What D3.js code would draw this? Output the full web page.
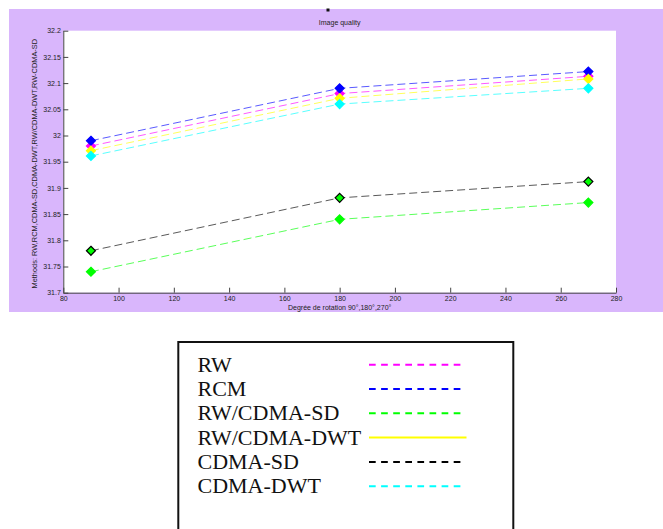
<!DOCTYPE html>
<html lang="en">
<head>
<meta charset="utf-8">
<style type="text/css">
    body { margin: 0; background: #fff; }
    .tick_text { font-family: "Liberation Sans", Arial, sans-serif; font-size: 7px; fill: #222; }
    .label_text { font-family: "Liberation Sans", Arial, sans-serif; font-size: 7px; fill: #222; }
    .legend_text { font-family: "Liberation Serif", "DejaVu Serif", serif; font-size: 22px; fill: #111; }
</style>
</head>
<body>
<script src="https://d3js.org/d3.v7.min.js"></script>
<script type="text/javascript">
// data
var angles = [90, 180, 270];
var rw        = [31.980, 32.080, 32.113];
var rcm       = [31.990, 32.090, 32.122];
var rwCdmaSd  = [31.740, 31.840, 31.872];
var rwCdmaDwt = [31.971, 32.071, 32.108];
var cdmaSd    = [31.780, 31.881, 31.912];
var cdmaDwt   = [31.961, 32.060, 32.090];

var seriesNames = ["RW", "RCM", "RW/CDMA-SD", "RW/CDMA-DWT", "CDMA-SD", "CDMA-DWT"];
var seriesValues = [rw, rcm, rwCdmaSd, rwCdmaDwt, cdmaSd, cdmaDwt];

var xTicks = [80, 100, 120, 140, 160, 180, 200, 220, 240, 260, 280];
var yTicks = [31.7, 31.75, 31.8, 31.85, 31.9, 31.95, 32, 32.05, 32.1, 32.15, 32.2];

var titleText = "Image quality";
var xLabel = "Degrée de rotation 90°,180°,270°";
var yLabel = "Methods: RW,RCM,CDMA-SD,CDMA-DWT,RW/CDMA-DWT,RW-CDMA-SD";

// styles
var lineColors = ["#ff00ff", "#0000ff", "#00ff00", "#ffff00", "#000000", "#00ffff"];
var markerFill = ["#ff00ff", "#0000ff", "#00ff00", "#ffff00", "#00ff00", "#00ffff"];
var legendDash = ["6.7,5.4", "6.7,5.4", "6.7,5.4", null, "6.7,5.4", "6.7,5.4"];

var W = 663, H = 529;
var plot = {left: 63.3, right: 616, top: 30.7, bottom: 292.7};

var svg = d3.select("body").append("svg")
    .attr("width", W)
    .attr("height", H);

// figure background
svg.append("rect")
    .attr("x", 9).attr("y", 9)
    .attr("width", W - 9).attr("height", 303)
    .attr("fill", "#d9b6fc");

svg.append("rect")
    .attr("x", plot.left).attr("y", plot.top)
    .attr("width", plot.right - plot.left).attr("height", plot.bottom - plot.top)
    .attr("fill", "#ffffff");

// little clipped mark above the title
svg.append("rect")
    .attr("x", 326.5).attr("y", 8.5)
    .attr("width", 3).attr("height", 3)
    .attr("fill", "#111");

var x = d3.scaleLinear().domain([80, 280]).range([plot.left, plot.right]);
var y = d3.scaleLinear().domain([31.7, 32.2]).range([plot.bottom, plot.top]);

var fmt = function(v) { return String(+v.toFixed(2)); };

// axes (ticks point inward like matlab)
var gx = svg.append("g")
    .attr("transform", "translate(0," + plot.bottom + ")")
    .call(d3.axisBottom(x).tickValues(xTicks).tickSizeInner(-5).tickSizeOuter(0).tickPadding(3).tickFormat(fmt));
var gy = svg.append("g")
    .attr("transform", "translate(" + plot.left + ",0)")
    .call(d3.axisLeft(y).tickValues(yTicks).tickSizeInner(-5).tickSizeOuter(0).tickPadding(2.5).tickFormat(fmt));

[gx, gy].forEach(function(g) {
    g.select(".domain").attr("stroke", "#444").attr("stroke-width", 1);
    g.selectAll(".tick line").attr("stroke", "#444");
    g.selectAll(".tick text").attr("class", "tick_text").attr("fill", null)
        .style("font-size", null).style("font-family", null);
    g.attr("font-size", null).attr("font-family", null);
});
gx.selectAll(".tick text").attr("dy", "0.95em").attr("y", 2);

// title and axis labels
svg.append("text")
    .attr("class", "label_text")
    .attr("x", (plot.left + plot.right) / 2)
    .attr("y", 25)
    .attr("text-anchor", "middle")
    .text(titleText);

svg.append("text")
    .attr("class", "label_text")
    .attr("x", (plot.left + plot.right) / 2)
    .attr("y", 310)
    .attr("text-anchor", "middle")
    .text(xLabel);

svg.append("text")
    .attr("class", "label_text")
    .attr("transform", "translate(37," + ((plot.top + plot.bottom) / 2 + 2) + ") rotate(-90)")
    .attr("text-anchor", "middle")
    .style("font-size", "7.4px")
    .text(yLabel);

// series
var line = d3.line()
    .x(function(d, i) { return x(angles[i]); })
    .y(function(d) { return y(d); });

function diamond(cx, cy, r) {
    return "M" + cx + "," + (cy - r) + "L" + (cx + r) + "," + cy +
           "L" + cx + "," + (cy + r) + "L" + (cx - r) + "," + cy + "Z";
}

seriesValues.forEach(function(vals, s) {
    svg.append("path")
        .datum(vals)
        .attr("d", line)
        .attr("fill", "none")
        .attr("stroke", lineColors[s])
        .attr("stroke-opacity", 0.65)
        .attr("stroke-width", 1)
        .attr("stroke-dasharray", "8,4");
});

seriesValues.forEach(function(vals, s) {
    svg.selectAll(null)
        .data(vals)
        .enter()
        .append("path")
        .attr("d", function(d, i) { return diamond(x(angles[i]), y(d), 4.5); })
        .attr("fill", markerFill[s])
        .attr("stroke", lineColors[s])
        .attr("stroke-width", 1.2);
});

// legend
var legend = svg.append("g");
legend.append("rect")
    .attr("x", 178.3).attr("y", 342)
    .attr("width", 335).attr("height", 200)
    .attr("fill", "#fff")
    .attr("stroke", "#111")
    .attr("stroke-width", 2);

var items = legend.selectAll(".legend")
    .data(seriesNames)
    .enter()
    .append("g")
    .attr("class", "legend")
    .attr("transform", function(d, i) { return "translate(0," + (371.7 + i * 24.3) + ")"; });

items.append("text")
    .attr("x", 197.5)
    .attr("y", 0)
    .style("font-family", "'Liberation Serif', 'DejaVu Serif', serif")
    .style("font-size", "22px")
    .style("fill", "#111")
    .text(function(d) { return d; });

items.append("line")
    .attr("x1", 369)
    .attr("x2", function(d, i) { return legendDash[i] ? 461 : 466.5; })
    .attr("y1", -7).attr("y2", -7)
    .attr("stroke", function(d, i) { return lineColors[i]; })
    .attr("stroke-width", 2)
    .attr("stroke-dasharray", function(d, i) { return legendDash[i]; });
</script>
</body>
</html>
